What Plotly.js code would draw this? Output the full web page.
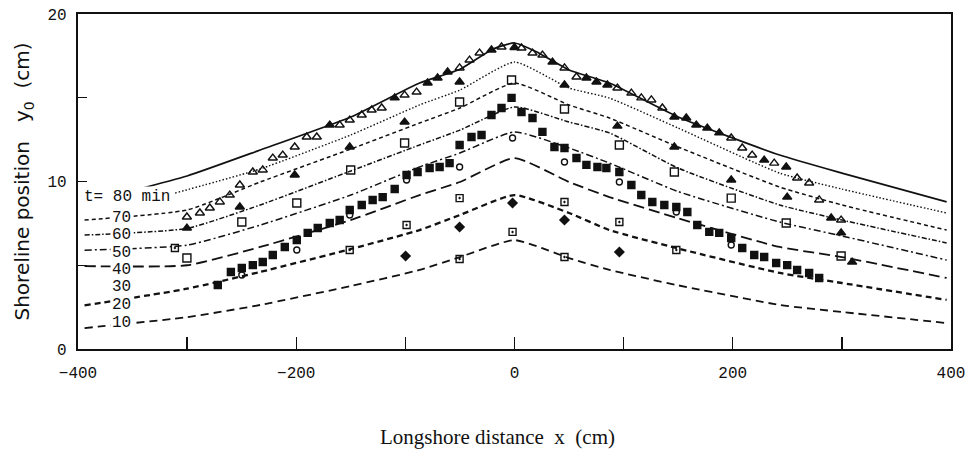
<!DOCTYPE html>
<html>
<head>
<meta charset="utf-8">
<script src="https://cdn.plot.ly/plotly-3.0.1.min.js"></script>
<style>html,body{margin:0;padding:0;background:#fff;}#chart{width:971px;height:451px;}</style>
</head>
<body>
<div id="chart"></div>
<script>
// ---- computed shoreline curves (one per time) ----
const curveTimes = ['80', '70', '60', '50', '40', '30', '20', '10'];
const xC80 = [-348, -300, -233, -150, -87, -50, -20, 0, 20, 50, 87, 150, 243, 300, 396];
const yC80 = [9.49, 10.33, 11.88, 13.85, 15.88, 16.7, 17.9, 18.27, 17.75, 16.66, 15.88, 13.85, 11.58, 10.5, 8.78];
const xC70 = [-311, -233, -150, -87, -50, 0, 50, 87, 150, 243, 300, 396];
const yC70 = [9.31, 10.75, 12.78, 14.57, 15.46, 17.13, 15.58, 14.98, 13.19, 10.5, 9.55, 8.12];
const xMain = [-394, -300, -233, -150, -87, -50, 0, 50, 87, 150, 243, 300, 396];
const yC60 = [7.7, 8.3, 9.97, 11.94, 13.49, 14.39, 15.88, 14.57, 13.79, 12.06, 9.67, 8.6, 7.1];
const yC50 = [6.8, 7.2, 8.6, 10.63, 12.18, 13.07, 14.45, 13.55, 12.9, 10.8, 8.6, 7.7, 6.33];
const yC40 = [5.9, 6.2, 7.4, 9.19, 10.87, 11.7, 12.96, 12.0, 11.1, 9.4, 7.58, 6.75, 5.31];
const yC30 = [4.95, 5.0, 6.09, 7.7, 9.19, 9.97, 11.4, 9.97, 9.07, 7.8, 6.09, 5.49, 4.24];
const yC20 = [2.6, 3.6, 4.6, 5.97, 7.1, 8.0, 9.19, 8.12, 7.1, 6.0, 4.54, 3.94, 2.93];
const yC10 = [1.25, 1.9, 2.63, 3.76, 4.72, 5.49, 6.5, 5.43, 4.72, 3.8, 2.63, 2.21, 1.55];

// ---- measured points ----
const xTriOpen = [-300.2,-288.3,-279.2,-270.0,-260.9,-251.7,-239.8,-230.7,-221.5,-212.4,-201.4,-190.4,-181.2,-160.2,-151.0,-140.0,-130.9,-121.7,-100.7,-89.7,-50.3,-41.2,-32.0,-11.9,6.4,16.5,25.6,45.8,56.8,94.3,107.1,116.2,125.4,135.5,198.6,208.7,217.8,238.0,259.0,270.0,279.2,299.3];
const yTriOpen = [7.88,8.12,8.42,8.78,9.19,9.79,10.57,10.69,11.4,11.58,12.06,12.66,12.66,13.37,13.67,13.97,14.27,14.39,15.16,15.34,16.78,17.25,17.67,18.03,17.97,17.67,17.55,16.78,16.24,15.58,15.28,14.99,14.87,14.39,12.6,12.0,11.58,11.1,10.21,9.91,8.9,7.7];
const xTriFill = [-169.3,-109.8,-79.6,-70.5,-61.3,-21.1,0,34.8,65.9,75.1,85.1,146.5,157.4,166.6,176.7,187.6,228.8,249.0,
                  -300.2,-251.7,-201.4,-151.0,-100.7,-50.3,45.8,94.3,146.5,198.6,249.9,290.2,299.3,309.4];
const yTriFill = [13.37,14.99,15.88,16.18,16.54,17.85,18.0,17.13,16.18,15.94,15.76,13.85,13.79,13.37,13.19,12.9,11.28,10.87,
                  7.22,8.48,10.39,12.06,13.55,15.94,15.76,13.31,12.06,10.09,9.07,7.82,6.93,5.19];
const xSqOpen = [-300.2,-249.9,-199.5,-150.1,-100.7,-50.3,-2.7,45.8,96.1,146.5,198.6,249.0,299.3];
const ySqOpen = [5.43,7.58,8.72,10.69,12.3,14.75,16.06,14.33,12.18,10.57,9.01,7.52,5.55];
const xSqFill = [-271.9,-259.9,-249.9,-239.8,-230.7,-221.5,-210.5,-199.5,-189.5,-180.3,-169.3,-160.2,-151.0,-140.0,-130.0,-120.8,-109.8,-98.9,-88.8,-77.8,-68.6,-59.5,-50.3,-39.4,-30.2,-21.1,-11.9,-2.7,6.4,16.5,25.6,36.6,45.8,56.8,65.9,76.0,84.2,96.1,107.1,116.2,126.3,137.3,148.3,158.4,167.5,178.5,187.6,198.6,208.7,219.7,228.8,239.8,249.9,259.0,270.0,279.2];
const ySqFill = [3.82,4.6,4.84,5.01,5.19,5.61,6.09,6.51,6.93,7.22,7.52,7.7,8.3,8.6,8.9,9.07,9.55,10.39,10.57,10.81,10.87,11.1,12.18,12.66,12.78,13.97,14.39,14.99,14.15,13.79,12.96,12.06,12.0,11.4,10.99,10.87,10.81,10.57,9.79,9.19,8.78,8.6,8.48,8.18,7.4,6.99,6.93,6.63,6.03,5.61,5.49,5.13,5.01,4.72,4.54,4.24];
const xCircle = [-249.9,-199.5,-151.0,-98.9,-50.3,-1.8,45.8,96.1,148.3,198.6];
const yCircle = [4.42,5.91,8.0,10.09,10.87,12.6,11.16,9.97,8.18,6.21];
const xSqDot = [-311.2,-151.0,-98.9,-50.3,45.8,96.1,148.3,-50.3,-1.8,45.8];
const ySqDot = [6.03,5.91,7.4,9.01,8.78,7.58,5.91,5.37,6.99,5.49];
const xDiamond = [-99.8,-50.3,-1.8,45.8,96.1];
const yDiamond = [5.55,7.28,8.72,7.7,5.79];

// ---- curve label positions ----
const labelX = -360;
const labelY = [9.07, 7.82, 6.81, 5.73, 4.72, 3.70, 2.63, 1.55];

const curves = [
  {x: xC80, y: yC80, dash: 'solid', w: 1.7},
  {x: xC70, y: yC70, dash: '1.5px,2px', w: 1.4},
  {x: xMain, y: yC60, dash: '4px,3px', w: 1.5},
  {x: xMain, y: yC50, dash: '5px,2px,1.5px,2px', w: 1.5},
  {x: xMain, y: yC40, dash: '7px,3px,2px,3px', w: 1.5},
  {x: xMain, y: yC30, dash: '11px,5px', w: 1.8},
  {x: xMain, y: yC20, dash: '6px,4px', w: 2.3},
  {x: xMain, y: yC10, dash: '8px,5px', w: 1.8}
];

const traces = curves.map((c, i) => ({
  type: 'scatter', mode: 'lines', x: c.x, y: c.y, name: 't=' + curveTimes[i],
  line: {color: '#111', width: c.w, dash: c.dash, shape: 'spline', smoothing: 0.5},
  hoverinfo: 'skip'
}));

function pts(x, y, symbol, size) {
  return {type: 'scatter', mode: 'markers', x: x, y: y,
    marker: {symbol: symbol, size: size, color: '#111', line: {color: '#111', width: 1.4}}};
}
traces.push(pts(xTriOpen, yTriOpen, 'triangle-up-open', 8));
traces.push(pts(xTriFill, yTriFill, 'triangle-up', 8));
traces.push(pts(xSqOpen, ySqOpen, 'square-open', 8));
traces.push(pts(xSqFill, ySqFill, 'square', 7));
traces.push(pts(xCircle, yCircle, 'circle-open', 6));
traces.push(pts(xSqDot, ySqDot, 'square-open-dot', 7));
traces.push(pts(xDiamond, yDiamond, 'diamond', 7));

const monoFont = {family: 'Liberation Mono, DejaVu Sans Mono, monospace', size: 16, color: '#111'};
const annotations = curveTimes.map((t, i) => {
  if (i === 0) {
    return {x: -396.5, y: labelY[0], xref: 'x', yref: 'y', xanchor: 'left', yanchor: 'middle',
      text: 't= 80 min', showarrow: false, bgcolor: 'white', borderpad: 1, font: monoFont};
  }
  return {x: labelX, y: labelY[i], xref: 'x', yref: 'y', xanchor: 'center', yanchor: 'middle',
    text: t, showarrow: false, bgcolor: 'white', borderpad: 1, font: monoFont};
});
// x-axis title, placed where the figure has it (slightly left of centre)
annotations.push({
  x: 0.481, y: -0.263, xref: 'paper', yref: 'paper', xanchor: 'center', yanchor: 'middle',
  text: 'Longshore distance\u00a0\u00a0x\u00a0\u00a0(cm)', showarrow: false,
  font: {family: 'Liberation Serif, serif', size: 21, color: '#111'}
});

const layout = {
  width: 971, height: 451,
  margin: {l: 78, r: 20, t: 14, b: 102},
  paper_bgcolor: 'white', plot_bgcolor: 'white',
  showlegend: false,
  font: {family: 'Liberation Mono, monospace', color: '#111'},
  xaxis: {
    range: [-400, 400], showgrid: false, zeroline: false,
    tickmode: 'linear', tick0: -400, dtick: 200,
    ticks: 'inside', ticklen: 12, tickwidth: 1.3, tickcolor: '#111',
    minor: {tickmode: 'linear', tick0: -400, dtick: 100, ticks: 'inside', ticklen: 12, tickwidth: 1.3, tickcolor: '#111', showgrid: false},
    showline: true, linewidth: 2.2, linecolor: '#111', mirror: true,
    tickfont: monoFont, ticklabelstandoff: 8
  },
  yaxis: {
    range: [0, 20], showgrid: false, zeroline: false,
    tickmode: 'linear', tick0: 0, dtick: 10,
    ticks: 'inside', ticklen: 9, tickwidth: 1.3, tickcolor: '#111',
    minor: {tickmode: 'linear', tick0: 0, dtick: 5, ticks: 'inside', ticklen: 9, tickwidth: 1.3, tickcolor: '#111', showgrid: false},
    showline: true, linewidth: 2.2, linecolor: '#111', mirror: true,
    tickfont: monoFont, ticklabelstandoff: 6,
    title: {text: 'Shoreline position\u00a0\u00a0\u00a0y<sub>0</sub>\u00a0\u00a0(cm)', standoff: 12,
      font: {family: 'DejaVu Sans, sans-serif', size: 20, color: '#111'}}
  },
  annotations: annotations
};

Plotly.newPlot('chart', traces, layout, {staticPlot: true, displayModeBar: false});
</script>
</body>
</html>
